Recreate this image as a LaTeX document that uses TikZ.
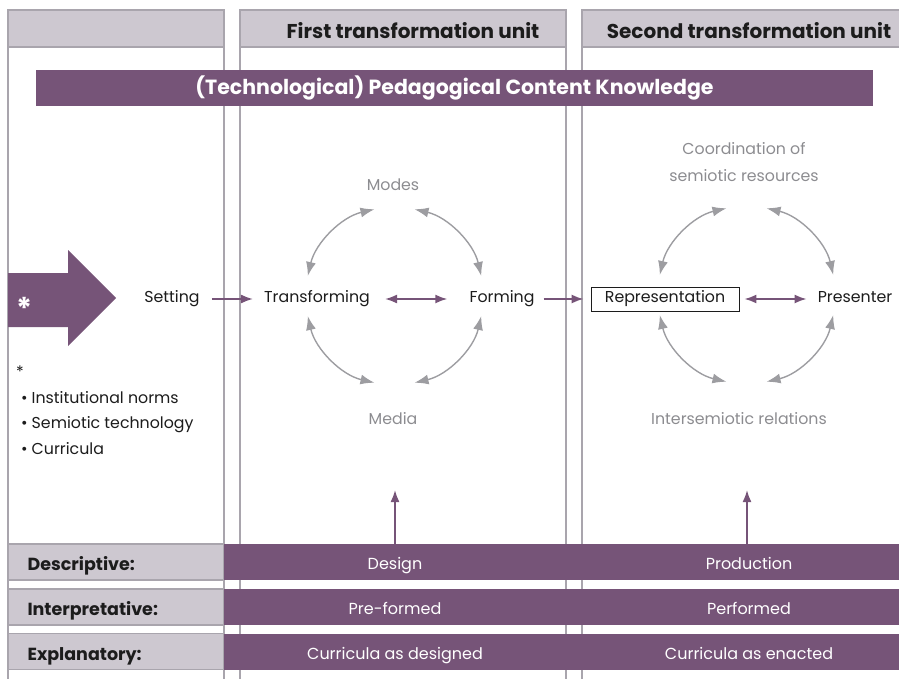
\documentclass[tikz,border=0pt]{standalone}
\usepackage{fontspec}
\setmainfont{Poppins}
\usetikzlibrary{arrows.meta,positioning,calc}
\definecolor{plum}{HTML}{765478}
\definecolor{hdr}{HTML}{CDC8D0}
\definecolor{rule}{HTML}{A9A5AD}
\definecolor{fog}{HTML}{8C8C90}
\definecolor{ring}{HTML}{9D9DA1}
\definecolor{ink}{HTML}{1C1C1C}
\newcommand{\fs}[1]{\fontsize{#1}{#1}\selectfont}
\tikzset{lab/.style={text=ink,inner sep=0pt,text height=11pt,text depth=3.5pt,font=\fs{15.8}},
  soft/.style={text=fog,inner sep=0pt,font=\fs{15.8},align=center},
  title/.style={text=ink,font=\fs{20}\bfseries},
  rowlab/.style={text=ink,anchor=west,text height=12pt,text depth=3pt,font=\fs{17.5}\bfseries},
  cell/.style={text=white,inner sep=0pt,text height=11pt,text depth=3.5pt,font=\fs{16}},
  wire/.style={draw=rule,line width=2pt},
  hdrbox/.style={draw=rule,fill=hdr,line width=1.2pt},
  link/.style={draw=plum,line width=1.8pt,-{Latex[length=12pt,width=9pt]}},
  dlink/.style={link,{Latex[length=12pt,width=9pt]}-{Latex[length=12pt,width=9pt]}},
  cyc/.style={draw=ring,line width=1.4pt,{Latex[length=14pt,width=10pt]}-{Latex[length=14pt,width=10pt]}}}
% four arcs with tips at both ends round a centre
\newcommand{\ringarcs}[1]{%
\foreach \a in {13,103,193,283}{
 \draw[cyc] ($(#1)+(\a:89pt)$) arc[start angle=\a,delta angle=64,radius=89pt];
}}
\begin{document}
\begin{tikzpicture}[x=1pt,y=-1pt]
\useasboundingbox (0,0) rectangle (899,679);
\clip (0,0) rectangle (899,679);
% columns and their headers
\foreach \x in {8,224,240,566,582}{\draw[wire] (\x,10) -- (\x,679);}
\filldraw[hdrbox] (8,10) rectangle (224,47);
\filldraw[hdrbox] (240,10) rectangle (566,47);
\filldraw[hdrbox] (582,10) rectangle (920,47);
\node[title] (unit1) at (413,30.5) {First transformation unit};
\node[title] (unit2) at (749,30.5) {Second transformation unit};
\node[fill=plum,minimum width=837pt,minimum height=36pt,inner sep=0pt,text=white,font=\fs{20.5}\bfseries] (tpck) at (454.5,88) {(Technological) Pedagogical Content Knowledge};
% input arrow
\fill[plum] (8,273) -- (68,273) -- (68,250) -- (116,298) -- (68,346) -- (68,327) -- (8,327) -- cycle;
\node[text=white,font=\fs{30}\bfseries] (star) at (25,308) {*};
\node[lab] (note) at (20,374) {*};
\node[lab,anchor=north west,align=left,text height=,text depth=,font=\fontsize{15.8}{25.5}\selectfont] (norms) at (21,391) {\textbullet\hspace{4pt}Institutional norms\\\textbullet\hspace{4pt}Semiotic technology\\\textbullet\hspace{4pt}Curricula};
% first unit
\node[lab] (setting) at (172,299) {Setting};
\node[lab] (transf) at (317,299) {Transforming};
\node[lab] (forming) at (502,299) {Forming};
\node[soft] (modes) at (393,185) {Modes};
\node[soft] (media) at (393,419) {Media};
\coordinate (c1) at (394.5,296);
\ringarcs{c1}
% second unit
\node[lab,draw=ink,line width=0.8pt,minimum width=148pt,minimum height=24pt] (repr) at (665,299) {Representation};
\node[lab] (presenter) at (855,299) {Presenter};
\node[soft,font=\fontsize{15.8}{27}\selectfont] (coord) at (744,162) {Coordination of\\semiotic resources};
\node[soft] (inter) at (739,419) {Intersemiotic relations};
\coordinate (c2) at (746.5,295);
\ringarcs{c2}
\draw[link,shorten <=12pt,shorten >=11pt] (setting) -- (transf);
\draw[dlink,shorten <=15pt,shorten >=22pt] (transf) -- (forming);
\draw[link,shorten <=9pt,shorten >=7pt] (forming) -- (repr);
\draw[dlink,shorten <=5pt,shorten >=11pt] (repr) -- (presenter);
% levels of description
\foreach \y/\n/\t/\a/\b in {562/desc/Descriptive:/Design/Production,
  607/interp/Interpretative:/Pre-formed/Performed,
  651.5/expl/Explanatory:/Curricula as designed/Curricula as enacted}{
 \filldraw[hdrbox] (8,\y-18) rectangle (224,\y+18);
 \fill[plum] (224,\y-18) rectangle (920,\y+18);
 \node[rowlab] (\n) at (24,\y+4) {\t};
 \node[cell] (\n1) at (395,\y+4) {\a};
 \node[cell] (\n2) at (749,\y+4) {\b};
}
\coordinate (foot1) at (395,544);
\coordinate (foot2) at (747,544);
\coordinate (up1) at (395,490);
\coordinate (up2) at (747,490);
\draw[link] (foot1) -- (up1);
\draw[link] (foot2) -- (up2);
\end{tikzpicture}
\end{document}
